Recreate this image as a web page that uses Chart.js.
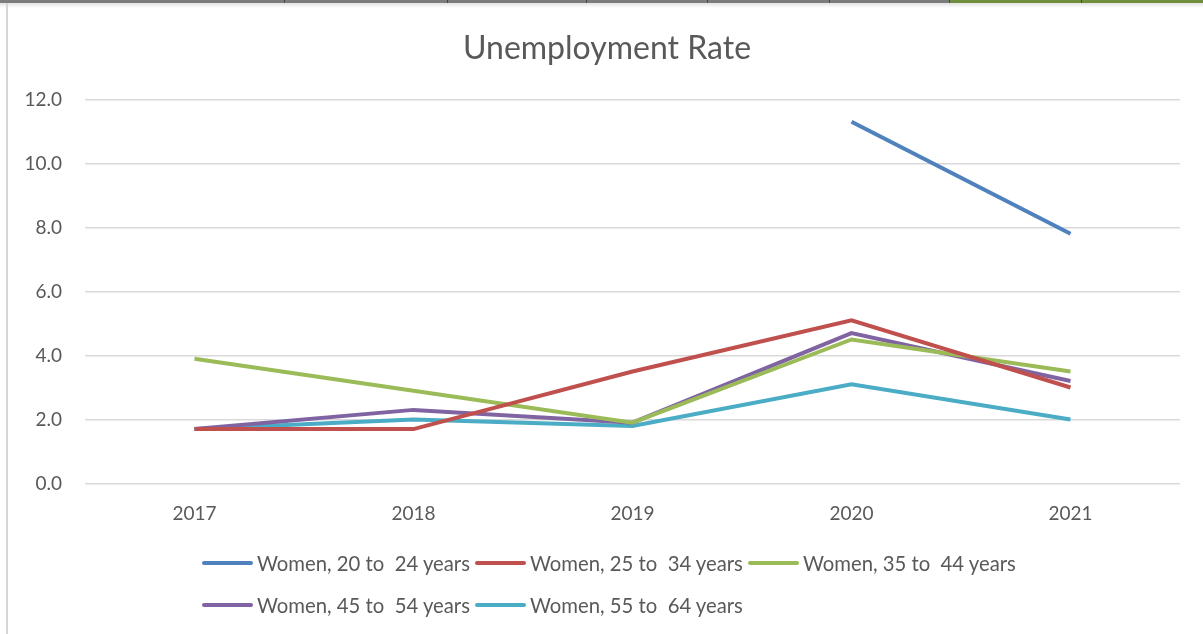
<!DOCTYPE html>
<html>
<head>
<meta charset="utf-8">
<title>Unemployment Rate</title>
<script src="https://cdn.jsdelivr.net/npm/chart.js@4"></script>
<style>
    html, body { margin: 0; padding: 0; background: #fff; }
    #wrap { position: relative; width: 1203px; height: 634px; overflow: hidden; font-family: Lato, sans-serif; }
    #topStrip { position: absolute; left: 0; top: 0; width: 1203px; height: 3px; background: #7d7d7d; }
    #topStrip .green { position: absolute; left: 949px; top: 0; width: 254px; height: 3px; background: #6f8f3f; }
    #topStrip .cut { position: absolute; top: 0; width: 1px; height: 4px; background: #444; }
    #topShade { position: absolute; left: 0; top: 3px; width: 1203px; height: 5px; background: linear-gradient(#e2e2e2, #fff); }
    #leftEdge { position: absolute; left: 6px; top: 3px; width: 2px; height: 631px; background: #d6d6d6; }
    #chartBox { position: absolute; left: 0; top: 0; width: 1203px; height: 634px; }
    #legend { position: absolute; left: 202px; top: 549px; width: 840px; display: flex; flex-wrap: wrap; row-gap: 14px; }
    .item { display: flex; align-items: center; height: 28px; margin-right: 5px; color: #595959; font-size: 20.3px; white-space: pre; }
    .swatch { width: 51px; height: 4px; margin-right: 4px; border-radius: 2px; }
</style>
</head>
<body>
<div id="wrap">
    <div id="chartBox"><canvas id="rateChart" width="1203" height="634"></canvas></div>
    <div id="topStrip"><div class="green"></div></div>
    <div id="topShade"></div>
    <div id="leftEdge"></div>
    <div id="legend"></div>
</div>
<script>
// chart data
const years = ['2017', '2018', '2019', '2020', '2021'];
const seriesNames = [
    'Women, 20 to  24 years',
    'Women, 25 to  34 years',
    'Women, 35 to  44 years',
    'Women, 45 to  54 years',
    'Women, 55 to  64 years'
];
const women20to24 = [null, null, null, 11.3, 7.8];
const women25to34 = [1.7, 1.7, 3.5, 5.1, 3.0];
const women35to44 = [3.9, 2.9, 1.9, 4.5, 3.5];
const women45to54 = [1.7, 2.3, 1.9, 4.7, 3.2];
const women55to64 = [1.7, 2.0, 1.8, 3.1, 2.0];
const yTicks = [0, 2, 4, 6, 8, 10, 12];

const seriesValues = [women20to24, women25to34, women35to44, women45to54, women55to64];
const seriesColors = ['#4f81bd', '#c0504d', '#9bbb59', '#8064a2', '#4bacc6'];

const textColor = '#595959';

// spreadsheet cell dividers along the top edge of the screenshot
[284, 447, 586, 707, 829, 949, 1081].forEach(x => {
    const cut = document.createElement('div');
    cut.className = 'cut';
    cut.style.left = x + 'px';
    document.getElementById('topStrip').appendChild(cut);
});

// build the legend below the chart (left aligned rows, like the original)
const legendBox = document.getElementById('legend');
seriesNames.forEach((name, i) => {
    const item = document.createElement('div');
    item.className = 'item';
    const swatch = document.createElement('span');
    swatch.className = 'swatch';
    swatch.style.background = seriesColors[i];
    const label = document.createElement('span');
    label.textContent = name;
    item.appendChild(swatch);
    item.appendChild(label);
    legendBox.appendChild(item);
});

// the title sits centred on the whole picture, not on the padded area
const shiftTitle = {
    id: 'shiftTitle',
    afterLayout(chart) {
        if (chart.titleBlock) {
            chart.titleBlock.left += 17;
            chart.titleBlock.right += 17;
        }
    }
};

const ctx = document.getElementById('rateChart').getContext('2d');

new Chart(ctx, {
    type: 'line',
    data: {
        labels: years,
        datasets: seriesNames.map((name, i) => ({
            label: name,
            data: seriesValues[i],
            borderColor: seriesColors[i],
            backgroundColor: seriesColors[i],
            borderWidth: 4,
            pointRadius: 0,
            tension: 0,
            spanGaps: false
        }))
    },
    plugins: [shiftTitle],
    options: {
        responsive: false,
        animation: false,
        layout: {
            padding: { left: 0, right: 23, top: 0, bottom: 100 }
        },
        plugins: {
            legend: { display: false },
            tooltip: { enabled: false },
            title: {
                display: true,
                text: 'Unemployment Rate',
                color: textColor,
                font: { family: 'Lato', size: 32, weight: 'normal', lineHeight: 1.2 },
                padding: { top: 29, bottom: 32 }
            }
        },
        scales: {
            x: {
                offset: true,
                grid: { display: false, drawTicks: false },
                border: { display: false },
                ticks: {
                    color: textColor,
                    font: { family: 'Lato', size: 19 },
                    padding: 19,
                    maxRotation: 0
                },
                afterFit: (scale) => { scale.height = 50.5; }
            },
            y: {
                min: 0,
                max: 12,
                afterBuildTicks: (scale) => {
                    scale.ticks = yTicks.map(v => ({ value: v }));
                },
                grid: { color: '#d9d9d9', lineWidth: 1.5, drawTicks: false },
                border: { display: false },
                ticks: {
                    color: textColor,
                    font: { family: 'Lato', size: 19 },
                    padding: 23,
                    callback: (v) => Number(v).toFixed(1)
                },
                afterFit: (scale) => { scale.width = 85; }
            }
        }
    }
});
</script>
</body>
</html>
